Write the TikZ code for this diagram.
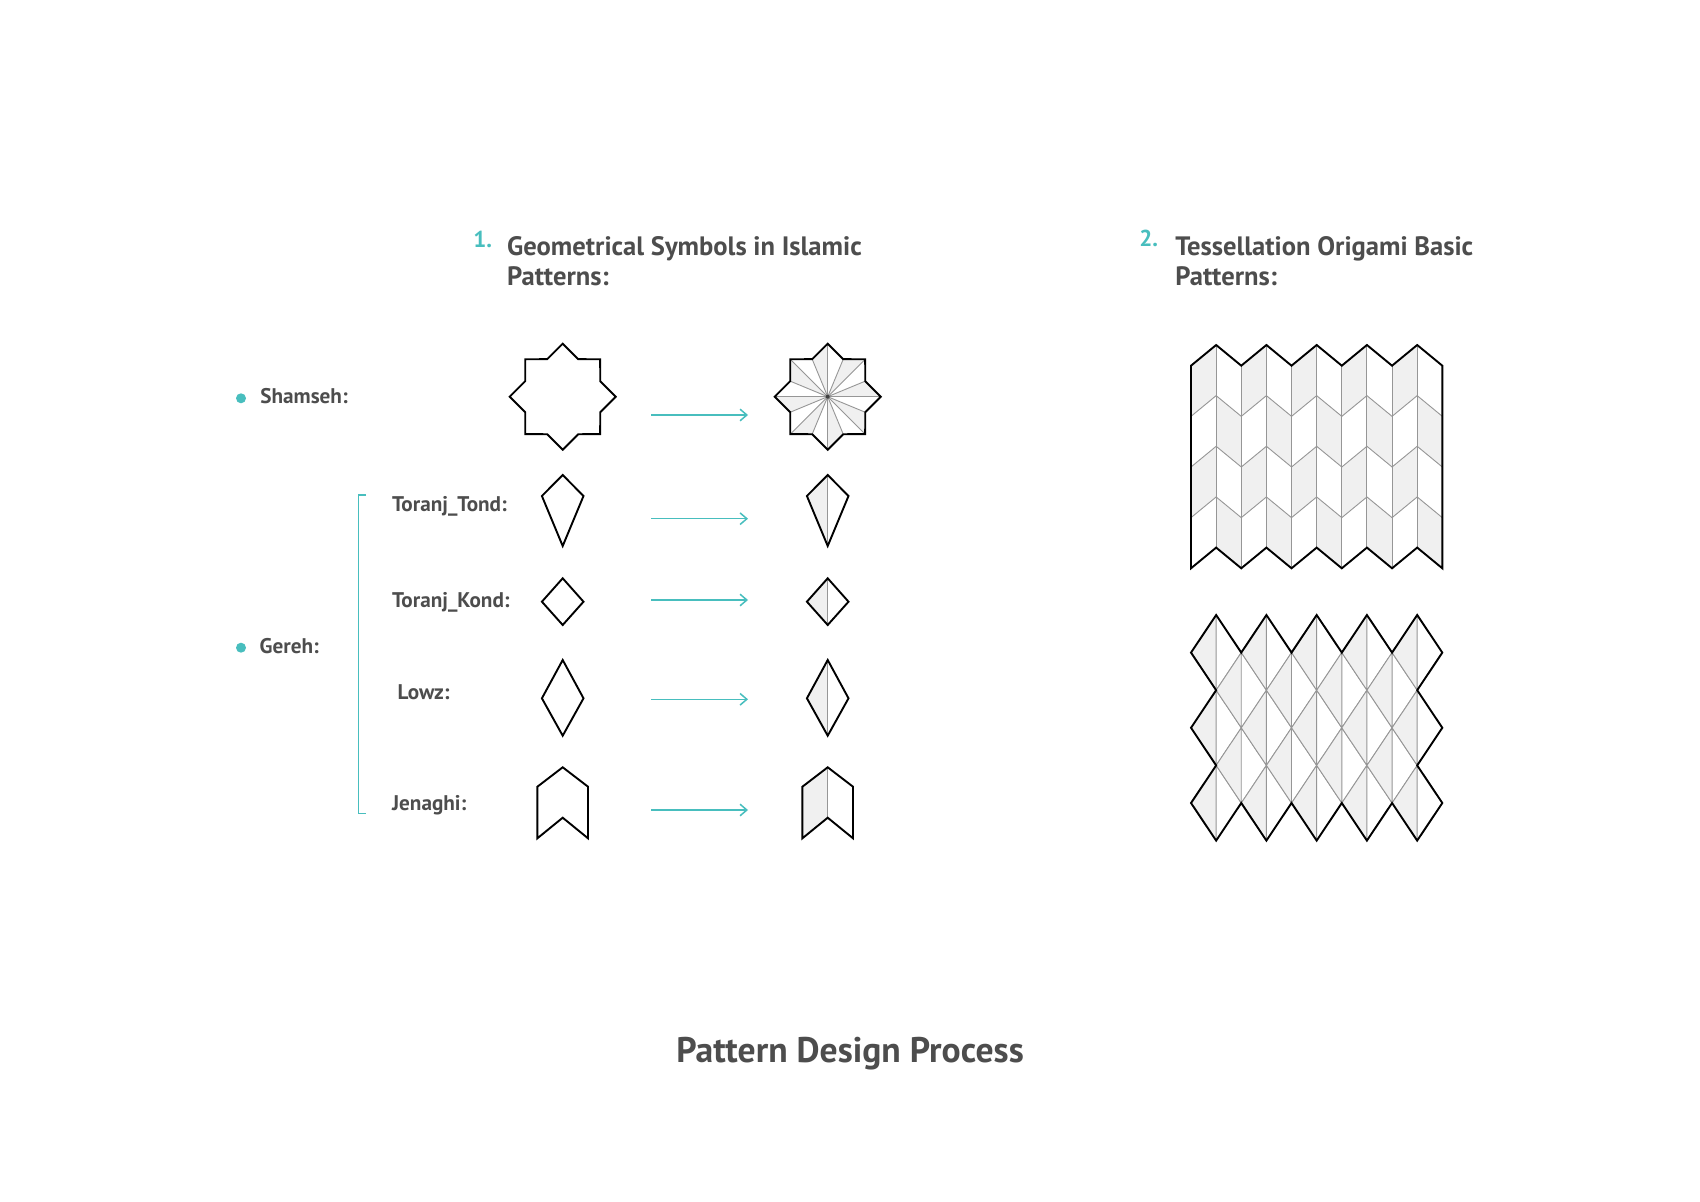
\documentclass[tikz,border=0pt]{standalone}
\usepackage{fontspec}
\setmainfont{PT Sans}
\usetikzlibrary{arrows.meta}
\definecolor{tealmark}{RGB}{72,190,190}
\definecolor{inkgray}{RGB}{77,77,77}
\definecolor{foldgray}{RGB}{240,240,240}
\definecolor{creasegray}{RGB}{150,150,150}
\tikzset{outline/.style={draw=black, line width=0.95pt, line join=miter},
  crease/.style={draw=creasegray, line width=0.45pt},
  halfshade/.style={fill=foldgray},
  flow/.style={draw=tealmark, line width=0.75pt, -{Straight Barb[length=3.4pt,width=5.8pt]}},
  bullet/.style={circle, fill=tealmark, inner sep=0pt, minimum size=5pt},
  itemtext/.style={text=inkgray, font=\fontsize{10.6}{12}\selectfont\bfseries, inner sep=0pt},
  headtext/.style={text=inkgray, font=\fontsize{13.3}{15}\selectfont\bfseries, inner sep=0pt},
  numtext/.style={text=tealmark, font=\fontsize{11.5}{13}\selectfont\bfseries, inner sep=0pt},
  captiontext/.style={text=inkgray, font=\fontsize{17.8}{21}\selectfont\bfseries, inner sep=0pt},
  shamseh/.pic={
    \draw[outline] (0:53) -- (22.5:40.6) \foreach \a in {45,90,...,315} { -- (\a:53) -- (\a+22.5:40.6) } -- cycle;
  },
  shamseh folded/.pic={
    \foreach \a in {0,45,...,315}
      \fill[halfshade] (0,0) -- (\a:53) -- (\a-22.5:40.6) -- cycle;
    \foreach \a in {0,45,...,315} {
      \draw[crease] (0,0) -- (\a:53);
      \draw[crease] (0,0) -- (\a+22.5:40.6);
    }
    \fill[black!75] (0,0) circle[radius=1pt];
    \pic {shamseh};
  },
  toranj tond/.pic={
    \draw[outline] (0,0) -- (-20.8,21) -- (0,71) -- (20.8,21) -- cycle;
  },
  toranj tond folded/.pic={
    \fill[halfshade] (0,0) -- (-20.8,21) -- (0,71) -- cycle;
    \draw[crease] (0,0) -- (0,71);
    \pic {toranj tond};
  },
  toranj kond/.pic={
    \draw[outline] (0,0) -- (-20.8,23.4) -- (0,46.7) -- (20.8,23.4) -- cycle;
  },
  toranj kond folded/.pic={
    \fill[halfshade] (0,0) -- (-20.8,23.4) -- (0,46.7) -- cycle;
    \draw[crease] (0,0) -- (0,46.7);
    \pic {toranj kond};
  },
  lowz/.pic={
    \draw[outline] (0,0) -- (-20.8,38.3) -- (0,75.7) -- (20.8,38.3) -- cycle;
  },
  lowz folded/.pic={
    \fill[halfshade] (0,0) -- (-20.8,38.3) -- (0,75.7) -- cycle;
    \draw[crease] (0,0) -- (0,75.7);
    \pic {lowz};
  },
  jenaghi/.pic={
    \draw[outline] (0,0) -- (-25.3,19.4) -- (-25.3,71) -- (0,50.4) -- (25.3,71) -- (25.3,19.4) -- cycle;
  },
  jenaghi folded/.pic={
    \fill[halfshade] (0,0) -- (-25.3,19.4) -- (-25.3,71) -- (0,50.4) -- cycle;
    \draw[crease] (0,0) -- (0,50.4);
    \pic {jenaghi};
  },
  zigzag sheet/.pic={
    \begin{scope}[x=12.565pt]
      \foreach \i in {0,...,9}
        \foreach \j in {0,...,3} {
          \pgfmathtruncatemacro\parity{mod(\i+\j,2)}
          \ifnum\parity=0
            \fill[halfshade] (\i,{50.65*\j-20.7*mod(\i,2)}) -- (\i+1,{50.65*\j-20.7*mod(\i+1,2)})
              -- (\i+1,{50.65*(\j+1)-20.7*mod(\i+1,2)}) -- (\i,{50.65*(\j+1)-20.7*mod(\i,2)}) -- cycle;
          \fi
        }
      \foreach \i in {1,...,9}
        \draw[crease] (\i,{-20.7*mod(\i,2)}) -- ++(0,202.6);
      \foreach \j in {1,2,3}
        \draw[crease] (0,{50.65*\j}) \foreach \i in {1,...,10} { -- (\i,{50.65*\j-20.7*mod(\i,2)}) };
      \draw[outline] (0,0) \foreach \i in {1,...,10} { -- (\i,{-20.7*mod(\i,2)}) }
        \foreach \i in {10,9,...,0} { -- (\i,{202.6-20.7*mod(\i,2)}) } -- cycle;
    \end{scope}
  },
  diamond sheet/.pic={
    \begin{scope}[x=12.565pt,y=-18.8pt]
      \foreach \k in {1,...,9}
        \foreach \l in {1,...,5} {
          \pgfmathtruncatemacro\parity{mod(\k+\l,2)}
          \ifnum\parity=0
            \fill[halfshade] (\k,\l-1) -- (\k-1,\l) -- (\k,\l+1) -- cycle;
            \draw[crease] (\k,\l-1) -- (\k-1,\l) -- (\k,\l+1) -- (\k+1,\l) -- cycle (\k,\l-1) -- (\k,\l+1);
          \fi
        }
      \draw[outline] (0,1) \foreach \k/\l in {1/0,2/1,3/0,4/1,5/0,6/1,7/0,8/1,9/0,10/1,9/2,10/3,9/4,10/5,
        9/6,8/5,7/6,6/5,5/6,4/5,3/6,2/5,1/6,0/5,1/4,0/3,1/2} { -- (\k,\l) } -- cycle;
    \end{scope}
  }
}
\begin{document}
\begin{tikzpicture}[x=0.5pt,y=-0.5pt]
\fill[white] (0,0) rectangle (1700,1202);
\useasboundingbox (0,0) rectangle (1700,1202);

\node[numtext, anchor=base west] (num1) at (473,248) {1.};
\node[headtext, anchor=base west] (head1) at (506.7,256) {Geometrical Symbols in Islamic};
\node[headtext, anchor=base west] (head1b) at (506.7,286) {Patterns:};
\node[numtext, anchor=base west] (num2) at (1139,247) {2.};
\node[headtext, anchor=base west] (head2) at (1175,256) {Tessellation Origami Basic};
\node[headtext, anchor=base west] (head2b) at (1175,286) {Patterns:};

\node[bullet] (dot1) at (241,398.3) {};
\node[itemtext, anchor=base west] (shamseh) at (260,404) {Shamseh:};
\node[bullet] (dot2) at (241,647.7) {};
\node[itemtext, anchor=base west] (gereh) at (259.3,653.3) {Gereh:};
\draw[tealmark, line width=0.7pt] (366,495) -- (358.3,495) -- (358.3,813.3) -- (366,813.3);
\node[itemtext, anchor=base west] (tond) at (391.7,511.7) {Toranj\_Tond:};
\node[itemtext, anchor=base west] (kond) at (391.7,607.3) {Toranj\_Kond:};
\node[itemtext, anchor=base west] (lowz) at (397.3,699.3) {Lowz:};
\node[itemtext, anchor=base west] (jenaghi) at (391.7,810) {Jenaghi:};

\pic at (562.7,396.7) {shamseh};
\pic at (827.7,396.7) {shamseh folded};
\pic at (562.7,475) {toranj tond};
\pic at (827.7,475) {toranj tond folded};
\pic at (562.7,578.3) {toranj kond};
\pic at (827.7,578.3) {toranj kond folded};
\pic at (562.7,660) {lowz};
\pic at (827.7,660) {lowz folded};
\pic at (562.7,767.3) {jenaghi};
\pic at (827.7,767.3) {jenaghi folded};

\foreach \y [count=\n] in {415,518.7,600,699.3,810} {
  \coordinate (from\n) at (651,\y);
  \coordinate (to\n) at (748,\y);
  \draw[flow] (from\n) -- (to\n);
}

\pic at (1191,365.7) {zigzag sheet};
\pic at (1191,615) {diamond sheet};

\node[captiontext, anchor=base] (caption) at (850,1062.7) {Pattern Design Process};
\end{tikzpicture}
\end{document}
